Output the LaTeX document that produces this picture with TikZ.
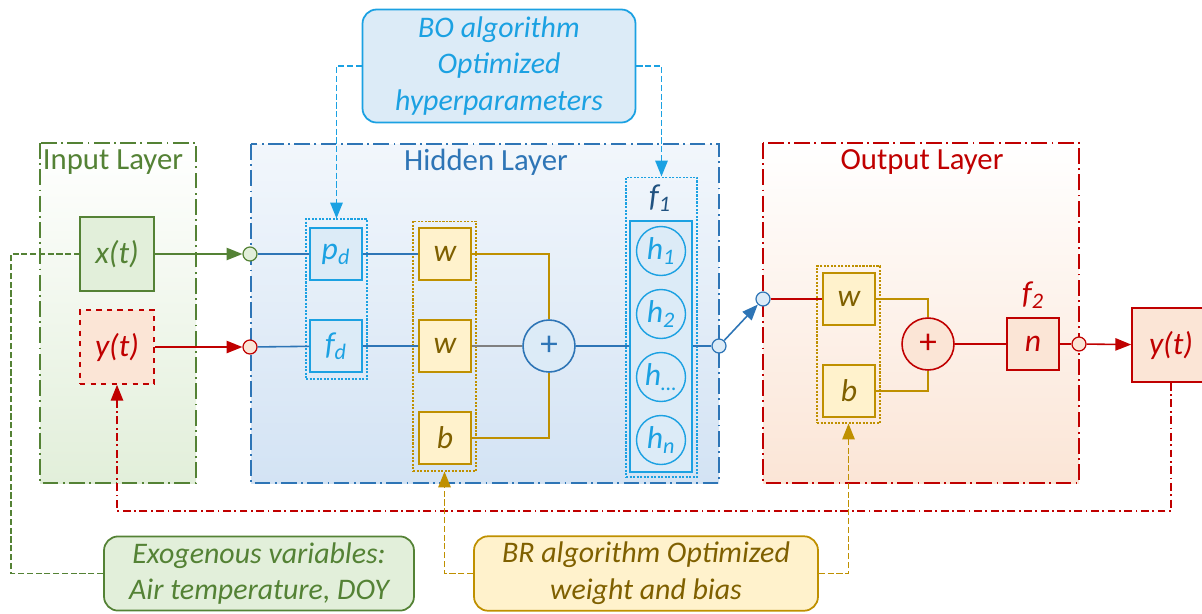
\documentclass[tikz,border=0pt]{standalone}
\usepackage{fontspec}
\setmainfont{Carlito}
\usetikzlibrary{fit,calc,arrows.meta,positioning}

\definecolor{ingreen}{HTML}{548235}
\definecolor{ingreenfill}{HTML}{E2EFDA}
\definecolor{hidblue}{HTML}{2E75B6}
\definecolor{hidfill}{HTML}{D3E3F4}
\definecolor{cyanline}{HTML}{1BA1E2}
\definecolor{cyanfill}{HTML}{DCEBF7}
\definecolor{goldline}{HTML}{BF9000}
\definecolor{goldfill}{HTML}{FFF2CC}
\definecolor{goldtext}{HTML}{7F6000}
\definecolor{outred}{HTML}{C00000}
\definecolor{outredfill}{HTML}{FBE5D6}

\tikzset{
  layerbox/.style={line width=1.3pt, dash pattern=on 9pt off 2.5pt on 1pt off 2.5pt},
  layertitle/.style={font=\fontsize{17.5}{20}\selectfont},
  termbox/.style={draw, minimum size=1.04cm, inner sep=0pt, line width=0.9pt,
                  font=\fontsize{18}{20}\selectfont\itshape},
  wbox/.style={termbox, draw=goldline, fill=goldfill, text=goldtext},
  pbox/.style={termbox, draw=cyanline, fill=cyanfill, text=cyanline},
  hcirc/.style={circle, draw=cyanline, line width=0.8pt, minimum size=0.98cm, inner sep=0pt,
                text=cyanline, font=\fontsize{18}{20}\selectfont\itshape},
  sumcirc/.style={circle, draw, minimum size=1.04cm, inner sep=0pt, line width=0.9pt,
                  font=\fontsize{20}{20}\selectfont},
  port/.style={circle, draw, minimum size=0.28cm, inner sep=0pt, line width=0.7pt},
  grpbox/.style={draw, dash pattern=on 1.2pt off 0.8pt, line width=0.6pt, inner sep=0pt},
  notebox/.style={draw, rounded corners=8pt, line width=1pt, align=center,
                  font=\fontsize{17}{21}\selectfont\itshape},
  link/.style={line width=0.9pt},
  tip/.style={-{Triangle[length=9pt,width=7pt]}},
  hint/.style={line width=1pt, dash pattern=on 3.5pt off 1.5pt},
  fbline/.style={line width=1pt, dash pattern=on 4.5pt off 2pt on 1pt off 2pt}
}

\begin{document}
\begin{tikzpicture}[x=0.02cm, y=-0.02cm]
\useasboundingbox (0,0) rectangle (1202,613);

% layers
\shade[top color=white, bottom color=ingreenfill] (40,143) rectangle (196,483);
\draw[layerbox, ingreen] (40,143) rectangle (196,483);
\shade[top color=white!70!hidfill, bottom color=hidfill] (251,144) rectangle (719,483);
\draw[layerbox, hidblue] (251,144) rectangle (719,483);
\shade[top color=white, bottom color=outredfill] (763,143) rectangle (1079,483);
\draw[layerbox, outred] (763,143) rectangle (1079,483);
\node[layertitle, text=ingreen] (intitle) at (113,162) {Input Layer};
\node[layertitle, text=hidblue] (hidtitle) at (486,162) {Hidden Layer};
\node[layertitle, text=outred] (outtitle) at (922,162) {Output Layer};

% input layer
\node[termbox, minimum size=1.48cm, draw=ingreen, fill=ingreenfill, text=ingreen] (xin) at (117,254) {x(t)};
\node[termbox, minimum size=1.48cm, dashed, draw=outred, fill=outredfill, text=outred] (yin) at (117,347) {y(t)};

% hidden layer
\node[port, draw=ingreen, fill=ingreenfill] (inx) at (250,254) {};
\node[port, draw=outred, fill=outredfill] (iny) at (250,347) {};
\node[grpbox, draw=cyanline, minimum width=1.22cm, minimum height=3.2cm] (pgrp) at (336.5,299) {};
\node[pbox] (pd) at (336,254) {p\textsubscript{d}};
\node[pbox] (fd) at (336,346) {f\textsubscript{d}};
\node[grpbox, draw=goldline, minimum width=1.26cm, minimum height=5cm] (wgrp) at (444.5,346) {};
\node[wbox] (w1) at (445,254) {w};
\node[wbox] (w2) at (445,346) {w};
\node[wbox] (b1) at (445,438) {b};
\node[sumcirc, draw=hidblue, fill=cyanfill, text=hidblue] (sum1) at (549,346) {+};
\node[grpbox, draw=cyanline, minimum width=1.42cm, minimum height=6cm] (f1grp) at (661.5,327) {};
\node[draw=cyanline, line width=0.9pt, fill=cyanfill, minimum width=1.24cm, minimum height=5.02cm] (hbox) at (661,346.5) {};
\node[text=hidblue!70!black, font=\fontsize{18}{20}\selectfont\itshape] (f1) at (660,198) {f\textsubscript{1}};
\foreach \j/\sub in {0/1,1/2,2/{\dots},3/n}
  \node[hcirc] (h\j) at (661,251+63*\j) {h\textsubscript{\sub}};
\node[port, draw=hidblue, fill=cyanfill] (hout) at (719,346) {};

% output layer
\node[port, draw=hidblue, fill=cyanfill] (oin) at (763,299) {};
\node[grpbox, draw=goldline, minimum width=1.26cm, minimum height=3.14cm] (ogrp) at (848.5,344.5) {};
\node[wbox] (ow) at (849,299) {w};
\node[wbox] (ob) at (849,391) {b};
\node[sumcirc, draw=outred, fill=outredfill, text=outred] (sum2) at (928,344) {+};
\node[termbox, draw=outred, fill=outredfill, text=outred] (fn) at (1033,344) {n};
\node[text=outred, font=\fontsize{18}{20}\selectfont\itshape] (f2) at (1033,295) {f\textsubscript{2}};
\node[port, draw=outred, fill=outredfill] (oout) at (1079,344) {};
\node[termbox, minimum width=1.56cm, minimum height=1.48cm, draw=outred, fill=outredfill, text=outred] (yout) at (1171,345) {y(t)};

% connectors
\draw[link, tip, ingreen] (xin) -- (inx);
\draw[link, tip, outred] (yin) -- (iny);
\draw[link, hidblue] (inx) -- (pd) -- (w1);
\draw[link, hidblue] (iny) -- (fd) -- (w2);
\draw[link, goldline] (w1.east) -| (sum1.north);
\draw[link, goldline] (b1.east) -| (sum1.south);
\draw[link, gray] (w2) -- (sum1);
\draw[link, hidblue] (sum1) -- (hbox.west |- sum1);
\draw[link, hidblue] (hbox.east |- hout) -- (hout);
\draw[link, tip, hidblue] (hout) -- (oin);
\draw[link, outred] (oin) -- (ow);
\draw[link, goldline] (ow.east) -| (sum2.north);
\draw[link, goldline] (ob.east) -| (sum2.south);
\draw[link, outred] (sum2) -- (fn) -- (oout);
\draw[link, tip, outred] (oout) -- (yout);

% feedback
\draw[fbline, tip, outred] (yout.south) -- ++(0,128) -| (yin.south);

% notes
\node[notebox, draw=cyanline, fill=cyanfill, text=cyanline, minimum width=5.46cm, minimum height=2.26cm] (bo) at (499,66)
  {BO algorithm\\Optimized\\hyperparameters};
\node[notebox, draw=ingreen, fill=ingreenfill, text=ingreen, minimum width=6.2cm, minimum height=1.46cm] (exo) at (259,573.5)
  {Exogenous variables:\\Air temperature, DOY};
\node[notebox, draw=goldline, fill=goldfill, text=goldtext, minimum width=6.88cm, minimum height=1.46cm] (br) at (646,573.5)
  {BR algorithm Optimized\\weight and bias};
\draw[hint, tip, cyanline] (bo.west) -| (pgrp.north);
\draw[hint, tip, cyanline] (bo.east) -| (f1grp.north);
\draw[hint, tip, goldline] (br.west) -| (wgrp.south);
\draw[hint, tip, goldline] (br.east) -| (ogrp.south);
\draw[hint, ingreen] (exo.west) -- ++(-92,0) |- (xin.west);
\end{tikzpicture}
\end{document}
